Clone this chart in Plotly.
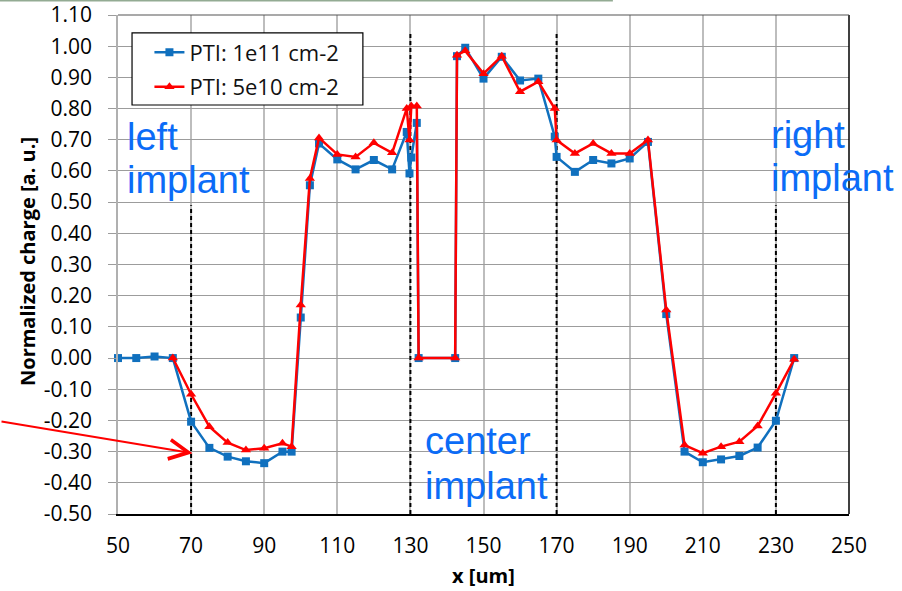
import plotly.graph_objects as go

# Position along the cut [um] and normalized collected charge, PTI dose 1e11 cm-2
x_1e11 = [50, 55, 60, 65, 70, 75, 80, 85, 90, 95, 97.5, 100, 102.5, 105, 110, 115,
          120, 125, 129, 129.75, 130.25, 131.75, 132.25, 142.25, 142.75, 145, 150,
          155, 160, 165, 169.5, 170, 175, 180, 185, 190, 195, 200, 205, 210, 215,
          220, 225, 230, 235]
q_1e11 = [0.00, 0.00, 0.005, 0.00, -0.204, -0.288, -0.316, -0.331, -0.337, -0.300,
          -0.300, 0.130, 0.554, 0.688, 0.637, 0.605, 0.635, 0.605, 0.725, 0.592,
          0.643, 0.754, 0.00, 0.00, 0.968, 0.995, 0.896, 0.966, 0.890, 0.896,
          0.710, 0.645, 0.597, 0.635, 0.624, 0.640, 0.693, 0.141, -0.300, -0.334,
          -0.325, -0.314, -0.287, -0.201, 0.00]

# Same cut, PTI dose 5e10 cm-2
x_5e10 = [65, 70, 75, 80, 85, 90, 95, 97.5, 100, 102.5, 105, 110, 115, 120, 125,
          129, 129.75, 130.25, 131.75, 132.25, 142.25, 142.75, 145, 150, 155, 160,
          165, 169.5, 170, 175, 180, 185, 190, 195, 200, 205, 210, 215, 220, 225,
          230, 235]
q_5e10 = [0.00, -0.116, -0.220, -0.271, -0.295, -0.289, -0.273, -0.284, 0.170,
          0.576, 0.706, 0.653, 0.645, 0.690, 0.658, 0.800, 0.699, 0.808, 0.808,
          0.00, 0.00, 0.971, 0.985, 0.912, 0.968, 0.854, 0.886, 0.800, 0.699,
          0.656, 0.688, 0.656, 0.656, 0.699, 0.154, -0.279, -0.305, -0.284,
          -0.268, -0.218, -0.113, -0.004]

series_names = ["PTI: 1e11 cm-2", "PTI: 5e10 cm-2"]

# Implant boundaries (dashed markers)
implant_edges = [70, 130, 170, 230]

x_ticks = [50, 70, 90, 110, 130, 150, 170, 190, 210, 230, 250]
y_ticks = [-0.5, -0.4, -0.3, -0.2, -0.1, 0.0, 0.1, 0.2, 0.3, 0.4, 0.5, 0.6,
           0.7, 0.8, 0.9, 1.0, 1.1]
y_tick_text = ["-0.50", "-0.40", "-0.30", "-0.20", "-0.10", "0.00", "0.10",
               "0.20", "0.30", "0.40", "0.50", "0.60", "0.70", "0.80", "0.90",
               "1.00", "1.10"]

BLUE = "#1070BE"
RED = "#FF0000"
LABEL_BLUE = "#0B6CF7"
FONT = "Open Sans"

fig = go.Figure()
fig.add_trace(go.Scatter(
    x=x_1e11, y=q_1e11, name=series_names[0], mode="lines+markers",
    line=dict(color=BLUE, width=2.5),
    marker=dict(symbol="square", size=8, color=BLUE),
    legendgroup="a", cliponaxis=False,
))
fig.add_trace(go.Scatter(
    x=x_5e10, y=q_5e10, name=series_names[1], mode="lines+markers",
    line=dict(color=RED, width=2.5),
    marker=dict(symbol="triangle-up", size=9, color=RED),
    legendgroup="b", cliponaxis=False,
))

shapes = []
# dashed implant-edge markers
for xe in implant_edges:
    top = 1.042 if xe in (130, 170) else 0.49
    shapes.append(dict(type="line", xref="x", yref="y", x0=xe, x1=xe,
                       y0=-0.5, y1=top, layer="between",
                       line=dict(color="black", width=2, dash="4px,3px")))
# right and top frame of the plot area
shapes.append(dict(type="line", xref="paper", yref="paper", x0=1, x1=1, y0=0, y1=1,
                   line=dict(color="black", width=1.5)))
shapes.append(dict(type="line", xref="paper", yref="paper", x0=0, x1=1, y0=1, y1=1,
                   line=dict(color="#555555", width=1.2)))
# legend frame
shapes.append(dict(type="rect", xref="paper", yref="paper",
                   x0=0.0192, x1=0.335, y0=0.8196, y1=0.964,
                   fillcolor="white", line=dict(color="black", width=1.2)))
# slide decorations along the top edge
shapes.append(dict(type="line", xref="paper", yref="paper", x0=-0.162, x1=0.677,
                   y0=1.029, y1=1.029, line=dict(color="#93AB93", width=2)))
shapes.append(dict(type="circle", xref="paper", yref="paper", x0=0.94, x1=0.987,
                   y0=1.0335, y1=1.093, line=dict(color="#E8264A", width=1.5)))

annotations = []
for txt, xa, ya in [("left", 51.9, 0.708), ("implant", 51.9, 0.570),
                    ("right", 228.1, 0.716), ("implant", 228.1, 0.577),
                    ("center", 133.5, -0.266), ("implant", 133.5, -0.410)]:
    annotations.append(dict(text=txt, x=xa, y=ya, xref="x", yref="y",
                            xanchor="left", yanchor="middle", showarrow=False,
                            font=dict(family="Liberation Sans", size=38,
                                      color=LABEL_BLUE)))
# arrow pointing at the left implant edge
annotations.append(dict(text="", x=70.4, y=-0.305, xref="x", yref="y",
                        ax=-193, ay=-32, axref="pixel", ayref="pixel",
                        showarrow=True, arrowhead=5, arrowsize=1.9,
                        arrowwidth=2, arrowcolor=RED, standoff=0))
# y-axis title
annotations.append(dict(text="<b>Normalized charge [a. u.]</b>", textangle=-90,
                        xref="paper", yref="paper", x=-0.1245, y=0.507,
                        xanchor="center", yanchor="middle", showarrow=False,
                        font=dict(family=FONT, size=20, color="black")))

fig.update_layout(
    width=902, height=591,
    margin=dict(l=118, r=53, t=15, b=77, autoexpand=False),
    paper_bgcolor="white", plot_bgcolor="white",
    font=dict(family=FONT, size=21, color="black"),
    showlegend=True,
    legend=dict(x=0.043, y=0.967, xanchor="left", yanchor="top",
                bgcolor="rgba(0,0,0,0)", borderwidth=0,
                font=dict(family=FONT, size=22, color="#111111"),
                tracegroupgap=3, traceorder="grouped"),
    xaxis=dict(range=[50, 250], tickvals=x_ticks, showgrid=True,
               gridcolor="#BDBDBD", gridwidth=1.5, zeroline=False,
               showline=True, linecolor="black", linewidth=1.5, ticks="",
               ticklabelstandoff=12, automargin=False,
               title=dict(text="<b>x [um]</b>", font=dict(size=20, color="black"),
                          standoff=11)),
    yaxis=dict(range=[-0.5, 1.1], tickvals=y_ticks, ticktext=y_tick_text,
               showgrid=True, gridcolor="#9C9C9C", gridwidth=1, zeroline=False,
               showline=True, linecolor="#B0B0B0", linewidth=1.5,
               ticks="outside", ticklen=8, tickcolor="#9C9C9C",
               ticklabelstandoff=12, automargin=False),
    shapes=shapes, annotations=annotations,
)

fig.write_html("out.html")
